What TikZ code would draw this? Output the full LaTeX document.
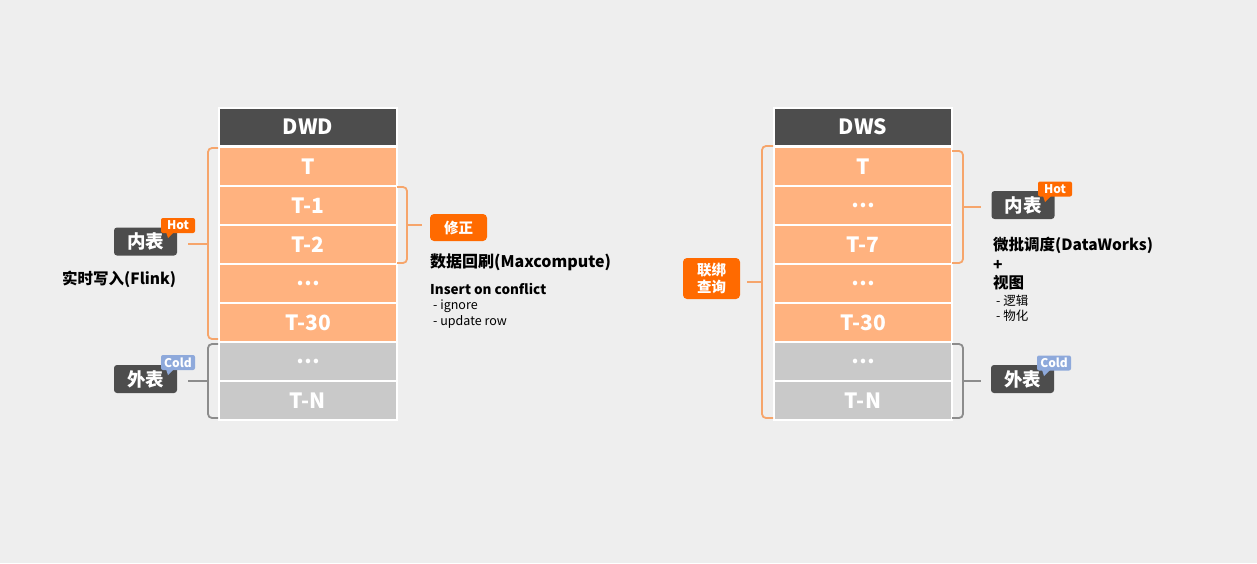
\documentclass[tikz,border=0pt]{standalone}
\usepackage{fontspec}
\setmainfont{Noto Sans CJK SC}
\usetikzlibrary{calc}
\definecolor{bg}{HTML}{EEEEEE}
\definecolor{hdr}{HTML}{4D4D4D}
\definecolor{cellor}{HTML}{FFB27F}
\definecolor{cellgr}{HTML}{C9C9C9}
\definecolor{accent}{HTML}{FF6A00}
\definecolor{bracec}{HTML}{F6A56B}
\definecolor{gbrace}{HTML}{8C8C8C}
\definecolor{coldc}{HTML}{8EA9DB}
\tikzset{
  cell/.style={draw=white, line width=1.2pt, minimum width=178pt, minimum height=39pt, inner sep=0pt, text=white, font=\fontsize{21}{21}\selectfont\bfseries},
  hcell/.style={cell, fill=hdr, minimum height=38pt},
  ocell/.style={cell, fill=cellor},
  gcell/.style={cell, fill=cellgr},
  lab/.style={fill=hdr, rounded corners=3pt, minimum width=63pt, minimum height=28pt, inner sep=0pt, text=white, font=\fontsize{18.5}{18.5}\selectfont\bfseries},
  tagbox/.style={rounded corners=2pt, minimum width=34pt, minimum height=15pt, inner sep=0pt, text=white, font=\fontsize{12}{12}\selectfont\bfseries},
  accbox/.style={fill=accent, rounded corners=4pt, inner sep=0pt, text=white, font=\fontsize{14.5}{17}\selectfont\bfseries, align=center},
  obr/.style={draw=bracec, line width=1.8pt, rounded corners=4pt},
  gbr/.style={draw=gbrace, line width=1.8pt, rounded corners=4pt},
  txt/.style={anchor=west, inner sep=0pt, text=black},
}
\newcommand{\dotsrow}{\raisebox{1pt}{…}}
\begin{document}
\begin{tikzpicture}[x=1pt,y=-1pt]
\fill[bg] (0,0) rectangle (1257,563);
\useasboundingbox (0,0) rectangle (1257,563);

% ---------- DWD stack
\node[hcell] (dh) at (308,127) {DWD};
\node[ocell] (d1) at (308,166.5) {T};
\node[ocell] (d2) at (308,205.5) {T-1};
\node[ocell] (d3) at (308,244.5) {T-2};
\node[ocell] (d4) at (308,283.5) {\dotsrow};
\node[ocell] (d5) at (308,322.5) {T-30};
\node[gcell] (d6) at (308,361.5) {\dotsrow};
\node[gcell] (d7) at (308,400.5) {T-N};

% ---------- DWS stack
\node[hcell] (sh) at (863,127) {DWS};
\node[ocell] (s1) at (863,166.5) {T};
\node[ocell] (s2) at (863,205.5) {\dotsrow};
\node[ocell] (s3) at (863,244.5) {T-7};
\node[ocell] (s4) at (863,283.5) {\dotsrow};
\node[ocell] (s5) at (863,322.5) {T-30};
\node[gcell] (s6) at (863,361.5) {\dotsrow};
\node[gcell] (s7) at (863,400.5) {T-N};

% ---------- left labels
\node[lab] (lin) at (145.5,241.5) {内表};
\fill[accent] (166,232) -- (174,232) -- (168,238) -- cycle;
\node[tagbox, fill=accent] (lhot) at (178,225.5) {Hot};
\node[txt, font=\fontsize{15.5}{15.5}\selectfont\bfseries] (flink) at (62,279) {实时写入(Flink)};
\node[lab] (lout) at (145.5,379) {外表};
\fill[coldc] (166,369) -- (174,369) -- (168,375) -- cycle;
\node[tagbox, fill=coldc] (lcold) at (178,362.5) {Cold};

% ---------- middle texts
\node[accbox, minimum width=57pt, minimum height=27pt] (fix) at (458.5,227.5) {修正};
\node[txt, font=\fontsize{16}{16}\selectfont\bfseries] (t1) at (430,262) {数据回刷(Maxcompute)};
\node[txt, font=\fontsize{13.5}{13.5}\selectfont\bfseries] (t2) at (430,289) {Insert on conflict};
\node[txt, font=\fontsize{12.5}{12.5}\selectfont] (t3) at (433,306) {- ignore};
\node[txt, font=\fontsize{12.5}{12.5}\selectfont] (t4) at (433,322) {- update row};

% ---------- DWS labels
\node[accbox, minimum width=57pt, minimum height=41pt] (join) at (711.5,278.5) {联绑\\查询};
\node[lab] (rin) at (1023,205) {内表};
\fill[accent] (1043,196) -- (1051,196) -- (1045,202) -- cycle;
\node[tagbox, fill=accent] (rhot) at (1055,189) {Hot};
\node[txt, font=\fontsize{15.5}{15.5}\selectfont\bfseries] (r1) at (993,245) {微批调度(DataWorks)};
\node[txt, font=\fontsize{15.5}{15.5}\selectfont\bfseries] (r2) at (993,265) {+};
\node[txt, font=\fontsize{15.5}{15.5}\selectfont\bfseries] (r3) at (993,283) {视图};
\node[txt, font=\fontsize{12.5}{12.5}\selectfont] (r4) at (996,301) {- 逻辑};
\node[txt, font=\fontsize{12.5}{12.5}\selectfont] (r5) at (996,316) {- 物化};
\node[lab] (rout) at (1022.5,379) {外表};
\fill[coldc] (1042,370) -- (1050,370) -- (1044,376) -- cycle;
\node[tagbox, fill=coldc] (rcold) at (1054,363) {Cold};

% ---------- braces
\coordinate (b1) at (208,244);
\draw[obr] (218,148) -- (208,148) -- (208,339) -- (218,339);
\draw[obr, rounded corners=0pt] (b1) -- ([xshift=11pt]lin.east |- b1);

\coordinate (b2) at (407,225);
\draw[obr] (397,187) -- (407,187) -- (407,263) -- (397,263);
\draw[obr, rounded corners=0pt] (b2) -- ([xshift=-8pt]fix.west |- b2);

\coordinate (b3) at (208,381);
\draw[gbr] (218,344) -- (208,344) -- (208,418) -- (218,418);
\draw[gbr, rounded corners=0pt] (b3) -- ([xshift=11pt]lout.east |- b3);

\coordinate (b4) at (762,282);
\draw[obr] (773,146) -- (762,146) -- (762,418) -- (773,418);
\draw[obr, rounded corners=0pt] (b4) -- ([xshift=7pt]join.east |- b4);

\coordinate (b5) at (963,207);
\draw[obr] (952,151) -- (963,151) -- (963,263) -- (952,263);
\draw[obr, rounded corners=0pt] (b5) -- ([xshift=-10pt]rin.west |- b5);

\coordinate (b6) at (963,381);
\draw[gbr] (952,344) -- (963,344) -- (963,418) -- (952,418);
\draw[gbr, rounded corners=0pt] (b6) -- ([xshift=-10pt]rout.west |- b6);
\end{tikzpicture}
\end{document}
